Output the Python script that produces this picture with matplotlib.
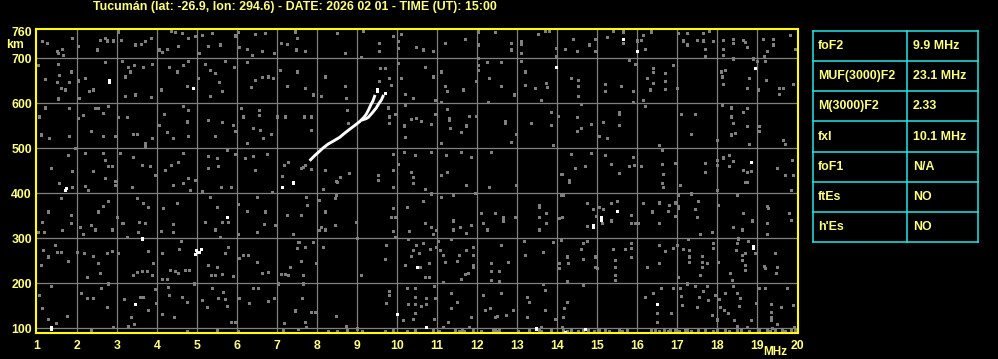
import matplotlib
matplotlib.use("Agg")
import numpy as np
import matplotlib.pyplot as plt

title = "Tucumán (lat: -26.9, lon: 294.6) - DATE: 2026 02 01 - TIME (UT): 15:00"

freq_ticks = list(range(1, 21))
height_ticks = [100, 200, 300, 400, 500, 600, 700, 760]

# F2 traces (ordinary / extraordinary), MHz vs km
trace_o_f = [7.84, 7.94, 8.04, 8.15, 8.28, 8.42, 8.57, 8.69, 8.82, 8.94, 9.07, 9.17, 9.23, 9.29, 9.34, 9.40, 9.44]
trace_o_h = [474, 483, 491, 500, 509, 516, 524, 533, 542, 550, 559, 568, 575, 585, 595, 605, 615]
trace_x_f = [9.15, 9.22, 9.28, 9.38, 9.48, 9.54, 9.61, 9.65]
trace_x_h = [563, 565, 568, 578, 589, 598, 607, 615]

# bright echoes
white_dots = [(9.50, 626), (9.50, 631), (9.69, 622), (2.80, 650), (2.80, 646), (4.91, 633),
              (1.72, 412), (1.70, 407), (5.74, 346), (3.63, 299), (3.45, 153), (1.35, 103),
              (1.35, 99), (7.13, 414), (7.39, 423), (4.97, 273), (4.95, 264), (5.05, 270),
              (5.10, 275), (4.99, 268), (7.41, 424), (13.98, 681), (10.51, 236), (9.99, 131),
              (10.73, 103), (13.48, 99), (15.64, 743), (15.99, 716), (18.95, 678), (18.84, 470),
              (15.49, 361), (15.09, 346), (15.09, 340), (14.89, 329), (14.89, 325), (18.89, 282),
              (18.89, 278), (16.49, 153), (14.70, 97), (14.20, 92)]

# grey noise speckle
grey_dots = [
    (1.13, 737), (1.24, 733), (1.49, 715), (1.52, 711), (1.62, 721), (1.66, 707), (1.88, 744), (2.03, 726),
    (2.49, 719), (2.57, 741), (2.70, 744), (2.74, 739), (2.91, 739), (3.03, 759), (3.10, 741), (3.45, 730),
    (3.60, 731), (3.70, 737), (3.85, 744), (4.05, 719), (4.12, 713), (4.24, 721), (4.35, 761), (4.45, 758),
    (4.53, 726), (4.62, 756), (4.78, 744), (4.95, 748), (5.05, 711), (5.12, 752), (5.28, 726), (5.37, 756),
    (5.58, 730), (5.95, 750), (6.03, 758), (6.05, 724), (6.24, 721), (6.37, 707), (6.45, 753), (6.62, 715),
    (6.70, 756), (6.93, 711), (7.10, 733), (7.24, 731), (7.45, 759), (7.49, 744), (7.47, 719),
    (1.02, 684), (1.20, 654), (1.52, 687), (1.55, 663), (1.49, 647), (1.60, 633), (1.70, 630), (1.53, 610),
    (1.80, 647), (1.85, 670), (2.03, 650), (2.05, 611), (2.20, 656), (2.30, 626), (2.41, 630), (2.70, 691),
    (3.12, 693), (3.28, 681), (3.32, 670), (3.20, 659), (3.20, 615), (3.45, 619), (3.43, 685), (3.66, 681),
    (3.87, 687), (3.85, 613), (4.10, 630), (4.30, 681), (4.49, 670), (4.66, 684), (4.78, 693), (4.74, 637),
    (5.03, 656), (5.20, 687), (5.33, 674), (5.45, 667), (5.55, 647), (5.62, 626), (5.33, 616), (5.70, 693),
    (5.93, 681), (6.24, 691), (6.35, 635), (6.45, 652), (6.62, 657), (6.78, 659), (6.91, 656), (7.08, 674),
    (7.24, 637), (7.49, 670),
    (1.20, 590), (1.10, 530), (1.30, 522), (1.05, 570), (1.80, 589), (1.80, 526), (2.02, 567), (2.16, 574),
    (2.35, 537), (2.45, 589), (2.53, 589), (2.66, 578), (2.78, 593), (2.66, 526), (2.95, 526), (3.03, 568),
    (3.24, 568), (3.41, 531), (3.49, 531), (3.87, 522), (3.70, 511), (4.05, 552), (4.18, 575), (4.24, 535),
    (4.41, 522), (4.66, 593), (4.78, 585), (4.74, 559), (4.78, 526), (5.28, 563), (5.45, 526), (5.62, 558),
    (5.91, 552), (5.95, 537), (6.10, 589), (6.16, 570), (6.24, 511), (6.41, 544), (6.55, 585), (6.55, 574),
    (6.58, 541), (6.66, 522), (6.85, 531), (7.00, 570), (7.20, 570),
    (1.35, 455), (1.78, 484), (1.87, 450), (1.95, 500), (2.20, 489), (2.41, 450), (2.66, 489), (2.70, 474),
    (2.78, 461), (2.88, 461), (2.70, 433), (2.95, 426), (3.07, 489), (3.41, 481), (3.62, 463), (3.70, 504),
    (3.83, 461), (3.95, 441), (4.20, 452), (4.35, 463), (4.53, 470), (4.66, 489), (4.78, 433), (4.95, 430),
    (5.28, 483), (5.49, 478), (5.28, 455), (5.53, 461), (5.74, 496), (5.95, 487), (6.20, 478), (6.41, 483),
    (6.45, 452), (6.74, 487), (7.18, 463), (7.28, 470), (7.13, 437),
    (1.55, 423), (1.60, 388), (1.88, 413), (2.20, 416), (2.28, 407), (2.53, 359), (2.66, 371), (2.77, 383),
    (2.95, 418), (3.37, 413), (3.49, 388), (3.66, 377), (3.78, 370), (4.16, 366), (4.41, 418), (4.49, 377),
    (4.66, 423), (4.83, 407), (5.12, 405), (5.33, 392), (5.49, 370), (5.60, 414), (5.85, 413), (6.03, 376),
    (6.24, 361), (6.49, 392), (6.70, 359), (6.88, 403), (6.95, 329), (6.68, 331), (7.24, 351), (7.41, 310),
    (1.02, 314), (1.18, 314), (1.27, 359), (1.13, 336), (1.62, 318), (1.85, 351), (1.85, 334), (2.08, 325),
    (2.16, 309), (2.35, 329), (2.45, 319), (2.87, 319), (2.99, 347), (3.13, 333), (3.15, 333), (3.24, 303),
    (3.55, 336), (3.53, 314), (3.70, 333), (4.10, 316), (4.41, 331), (4.41, 314), (5.20, 336), (5.45, 319),
    (5.62, 336), (5.78, 336), (5.58, 303), (6.03, 310), (6.49, 314),
    (1.16, 273), (1.10, 240), (1.28, 259), (1.49, 270), (1.60, 270), (1.45, 284), (1.78, 250), (1.99, 270),
    (2.18, 267), (2.41, 260), (2.53, 245), (2.57, 223), (2.24, 214), (2.74, 267), (2.88, 272), (3.03, 267),
    (3.41, 218), (3.49, 225), (3.63, 227), (3.74, 227), (3.87, 218), (3.91, 245), (3.78, 272), (4.12, 267),
    (4.32, 229), (4.45, 227), (4.53, 223), (4.70, 230), (4.80, 230), (4.60, 294), (4.55, 275), (4.12, 208),
    (4.24, 210), (5.28, 240), (5.49, 235), (5.35, 218), (5.45, 218), (5.62, 220), (5.70, 267), (5.78, 281),
    (5.91, 216), (6.05, 255), (6.16, 262), (6.28, 262), (6.49, 247), (6.62, 223), (6.78, 225), (7.10, 221),
    (7.20, 220), (7.28, 218), (7.33, 236), (7.53, 292), (7.49, 277),
    (1.05, 173), (1.13, 144), (1.27, 121), (1.35, 193), (1.47, 112), (1.74, 127), (2.10, 177), (2.24, 166),
    (2.41, 166), (2.60, 188), (2.74, 146), (2.78, 199), (2.91, 103), (3.18, 164), (3.27, 104), (3.35, 125),
    (3.43, 109), (3.57, 169), (3.66, 169), (3.78, 140), (3.95, 186), (3.97, 156), (4.12, 132), (4.27, 192),
    (4.30, 173), (4.43, 124), (4.62, 169), (4.74, 158), (4.93, 199), (5.12, 162), (5.24, 146), (5.38, 190),
    (5.52, 166), (5.66, 181), (5.70, 164), (5.74, 149), (5.85, 114), (5.95, 114), (6.05, 166), (6.30, 156),
    (6.41, 190), (6.52, 190), (6.78, 161), (6.93, 166), (7.03, 199), (7.18, 112), (7.45, 139), (7.53, 97),
    (8.51, 756), (9.15, 761), (7.69, 715), (8.69, 711), (9.09, 702), (9.54, 733), (9.54, 716), (9.90, 748),
    (10.03, 737), (10.03, 722), (10.11, 753), (10.48, 724), (10.65, 719), (10.90, 716), (11.19, 733),
    (11.69, 743), (12.03, 759), (12.44, 758), (12.03, 730), (12.03, 700), (12.03, 685), (12.03, 674),
    (12.26, 691), (12.59, 691), (12.84, 733), (12.84, 719), (13.09, 737), (13.09, 732), (13.09, 711),
    (13.09, 693), (13.53, 753), (13.69, 761), (13.79, 761), (13.98, 722), (13.98, 704),
    (8.19, 659), (7.69, 633), (7.90, 619), (8.09, 615), (8.73, 611), (8.69, 637), (9.57, 678), (9.69, 678),
    (9.79, 655), (9.84, 641), (9.55, 648), (10.03, 689), (10.11, 655), (10.19, 620), (10.40, 611),
    (10.69, 681), (10.90, 659), (11.09, 670), (11.19, 637), (11.26, 626), (11.65, 630), (10.94, 607),
    (11.11, 602), (11.98, 648), (12.29, 655), (12.28, 602), (12.61, 637), (12.93, 619), (13.19, 670),
    (13.19, 641), (13.44, 633), (13.59, 607), (13.73, 644), (13.76, 635),
    (7.68, 570), (7.84, 570), (7.84, 541), (8.76, 585), (8.78, 555), (9.77, 590), (9.79, 570), (9.79, 555),
    (9.94, 576), (10.19, 595), (10.36, 565), (10.48, 567), (10.61, 561), (10.18, 550), (10.21, 524),
    (10.84, 553), (10.94, 576), (11.26, 587), (11.29, 567), (11.29, 562), (11.32, 544), (11.61, 535),
    (11.79, 572), (11.98, 572), (11.73, 550), (11.09, 511), (12.69, 555), (12.69, 560), (12.98, 531),
    (13.36, 555), (13.84, 581), (13.84, 552), (14.03, 572), (13.90, 506),
    (7.65, 457), (7.86, 454), (8.19, 452), (8.79, 444), (8.57, 435), (8.48, 427), (9.53, 441), (9.53, 430),
    (9.90, 487), (9.90, 452), (10.03, 464), (10.18, 492), (10.44, 484), (10.36, 447), (10.40, 435),
    (10.86, 491), (11.09, 441), (11.23, 485), (11.26, 447), (11.61, 491), (11.84, 481), (12.34, 491),
    (12.84, 513), (14.09, 442), (7.70, 463), (7.60, 456),
    (8.15, 410), (8.51, 425), (8.48, 396), (8.44, 390), (8.04, 384), (7.73, 392), (7.76, 373), (7.59, 351),
    (8.19, 359), (8.09, 325), (8.04, 318), (8.19, 319), (8.44, 329), (8.98, 336), (9.01, 301), (9.90, 414),
    (9.90, 366), (9.94, 346), (9.86, 347), (9.90, 316), (9.94, 303), (10.40, 423), (10.69, 408),
    (10.65, 383), (10.84, 399), (11.09, 392), (10.26, 370), (10.29, 316), (10.69, 334), (10.86, 325),
    (10.90, 309), (10.98, 318), (11.40, 396), (11.40, 339), (11.40, 319), (11.57, 325), (11.73, 418),
    (11.73, 312), (11.84, 329), (11.94, 401), (12.29, 414), (12.09, 355), (12.15, 334), (12.26, 319),
    (12.44, 356), (12.65, 347), (12.65, 339), (12.94, 346), (12.98, 418), (13.54, 373), (13.54, 368),
    (13.54, 347), (13.54, 319), (13.73, 356), (13.73, 334), (14.04, 344), (14.11, 396),
    (7.54, 292), (7.59, 250), (7.71, 281), (7.90, 292), (8.15, 281), (7.98, 244), (7.65, 218), (7.65, 199),
    (9.09, 218), (9.69, 253), (9.73, 284), (10.28, 297), (10.48, 284), (10.65, 290), (10.40, 273),
    (10.54, 267), (10.36, 260), (10.21, 240), (10.57, 236), (10.82, 275), (10.79, 245), (10.98, 281),
    (11.07, 273), (11.15, 262), (11.19, 247), (11.03, 294), (11.36, 297), (11.51, 250), (11.54, 262),
    (11.73, 273), (11.90, 281), (11.90, 262), (11.90, 236), (11.90, 241), (11.78, 223), (11.69, 221),
    (11.59, 210), (10.69, 214), (10.79, 213), (11.15, 203), (12.34, 245), (12.34, 227), (12.34, 207),
    (12.54, 227), (12.54, 205), (12.59, 284), (12.78, 247), (13.19, 262), (13.18, 294), (13.65, 270),
    (13.90, 292), (14.04, 244), (14.04, 233),
    (7.63, 166), (7.86, 136), (7.94, 136), (7.69, 114), (7.73, 103), (8.48, 127), (8.73, 104), (9.01, 99),
    (9.79, 183), (9.79, 173), (9.73, 155), (10.15, 118), (10.26, 188), (10.44, 188), (10.44, 169),
    (10.28, 153), (10.44, 153), (10.59, 149), (10.44, 133), (10.40, 121), (10.73, 166), (10.73, 153),
    (10.93, 193), (10.94, 166), (10.93, 121), (11.15, 103), (11.34, 177), (11.51, 158), (11.34, 144),
    (11.28, 114), (11.84, 125), (11.79, 103), (12.15, 173), (12.19, 140), (12.32, 144), (12.44, 125),
    (12.51, 127), (12.59, 177), (12.73, 129), (12.90, 141), (13.26, 169), (13.29, 158), (13.26, 124),
    (13.69, 184), (13.69, 141), (13.65, 198), (13.94, 121), (13.61, 103),
    (14.41, 743), (14.20, 721), (14.49, 716), (14.81, 730), (14.95, 743), (14.95, 716), (15.24, 746),
    (15.39, 761), (15.64, 759), (15.64, 733), (15.99, 739), (16.09, 741), (16.14, 752), (16.34, 759),
    (16.20, 721), (17.03, 756), (17.14, 739), (17.24, 756), (17.24, 730), (17.49, 741), (17.64, 756),
    (17.66, 739), (17.70, 721), (17.70, 704), (17.81, 761), (17.89, 737), (18.16, 741), (18.14, 721),
    (18.14, 707), (18.39, 743), (18.39, 733), (18.64, 741), (18.70, 736), (18.74, 724), (19.16, 743),
    (19.39, 743), (19.39, 730), (19.24, 716), (19.18, 704), (19.83, 752), (19.95, 721),
    (15.81, 696), (15.95, 687), (16.39, 678), (16.39, 669), (16.70, 667), (16.70, 648), (16.70, 632),
    (16.89, 685), (16.99, 633), (16.41, 644), (16.33, 630), (16.26, 656), (15.89, 626), (15.89, 602),
    (16.14, 607), (16.20, 593), (15.59, 637), (15.20, 642), (15.20, 627), (14.53, 652), (14.53, 637),
    (14.53, 615), (14.34, 656), (18.09, 670), (18.20, 674), (18.12, 659), (18.14, 642), (18.41, 699),
    (18.81, 656), (18.74, 633), (18.89, 699), (18.99, 693), (19.03, 630), (19.20, 693), (19.23, 652),
    (19.56, 633), (19.64, 633), (19.56, 620), (19.91, 642),
    (14.59, 598), (14.49, 568), (14.49, 537), (14.59, 544), (14.84, 553), (15.06, 526), (15.14, 558),
    (15.24, 522), (15.56, 581), (15.56, 576), (15.56, 552), (16.56, 506), (17.09, 576), (17.34, 531),
    (17.45, 576), (17.99, 518), (18.12, 595), (18.34, 590), (18.34, 570), (18.39, 555), (18.45, 533),
    (18.34, 530), (18.64, 580), (18.74, 589), (18.74, 548), (18.81, 509), (19.06, 548), (19.06, 537),
    (19.66, 518), (19.70, 509),
    (14.34, 487), (14.45, 456), (14.70, 461), (14.84, 489), (15.20, 484), (15.34, 464), (15.56, 444),
    (15.91, 481), (15.93, 463), (15.81, 461), (16.09, 461), (16.62, 496), (16.62, 464), (16.64, 442),
    (16.95, 467), (17.70, 467), (17.70, 447), (17.99, 474), (17.99, 463), (18.14, 479), (18.31, 485),
    (18.39, 472), (18.31, 461), (18.64, 452), (18.74, 447), (18.84, 450), (19.49, 456), (19.70, 441),
    (19.87, 474), (19.89, 441), (14.12, 442), (14.31, 430), (18.70, 424),
    (14.16, 396), (14.31, 425), (14.76, 377), (14.91, 364), (15.06, 370), (15.14, 364), (15.34, 377),
    (15.51, 383), (14.76, 327), (14.97, 349), (15.12, 334), (15.34, 339), (15.84, 351), (15.84, 334),
    (15.95, 333), (16.03, 333), (16.14, 377), (16.37, 359), (16.56, 379), (16.62, 422), (16.64, 413),
    (16.56, 333), (16.78, 361), (16.81, 373), (16.95, 379), (16.95, 349), (17.03, 396), (17.03, 366),
    (17.03, 371), (17.08, 418), (17.34, 399), (17.45, 364), (17.49, 347), (17.53, 383), (17.58, 310),
    (17.87, 314), (17.99, 407), (18.03, 373), (18.41, 325), (18.49, 396), (18.62, 319), (18.64, 356),
    (18.74, 425), (18.87, 339), (19.24, 371), (19.28, 366), (19.24, 334), (19.24, 310), (19.81, 356),
    (19.84, 341), (19.84, 407),
    (14.12, 347), (14.09, 296), (14.24, 259), (14.28, 245), (14.64, 288), (14.66, 253), (14.74, 294),
    (14.59, 275), (14.95, 259), (14.95, 235), (14.99, 233), (15.39, 275), (15.45, 251), (15.45, 235),
    (15.45, 218), (15.45, 207), (15.70, 275), (15.84, 290), (15.84, 277), (15.84, 257), (16.24, 236),
    (16.56, 284), (16.56, 245), (16.70, 272), (16.89, 277), (16.99, 284), (17.03, 214), (17.14, 275),
    (17.28, 297), (17.31, 273), (17.31, 259), (17.31, 247), (17.62, 260), (17.62, 247), (17.62, 236),
    (17.58, 218), (17.74, 245), (17.89, 290), (17.89, 277), (18.03, 247), (18.33, 223), (18.37, 207),
    (18.48, 273), (18.53, 299), (18.49, 288), (18.62, 262), (18.62, 252), (18.70, 266), (18.70, 240),
    (18.70, 229), (18.78, 294), (18.95, 267), (19.18, 238), (19.20, 233), (19.45, 267), (19.49, 236),
    (19.48, 223),
    (14.24, 205), (14.64, 195), (14.24, 158), (14.17, 144), (14.14, 125), (14.12, 103), (16.20, 168),
    (16.39, 178), (16.59, 190), (16.51, 134), (16.49, 114), (16.84, 133), (16.91, 190), (17.08, 188),
    (17.09, 171), (17.12, 151), (17.24, 199), (17.45, 193), (17.51, 146), (17.56, 168), (17.64, 183),
    (17.74, 193), (17.78, 162), (17.87, 129), (17.99, 119), (17.95, 173), (18.06, 164), (18.08, 147),
    (18.18, 140), (18.28, 133), (18.20, 178), (18.41, 193), (18.49, 177), (18.58, 166), (18.56, 149),
    (18.43, 118), (18.51, 104), (18.84, 118), (18.97, 155), (19.06, 190), (19.20, 190), (19.34, 153),
    (19.34, 136), (19.34, 118), (19.34, 124), (19.51, 109), (19.59, 146), (19.74, 190), (19.91, 151),
    (19.93, 103), (18.74, 103), (19.37, 101),
]

# clutter along the lower edge (~90 km)
floor_f = [2.34, 4.74, 5.49, 6.03, 7.14, 8.28, 8.49, 8.74, 9.12, 9.70, 9.90, 10.25, 10.45, 10.90, 11.05,
           11.45, 11.55, 11.62, 11.68, 11.90, 12.10, 12.40, 12.45, 12.50, 12.55, 13.03, 13.30, 13.55,
           13.60, 13.85, 14.15, 14.25, 14.35, 14.53, 14.65, 14.78, 14.92, 15.05, 15.20, 15.30, 15.55,
           15.62, 15.75, 16.35, 16.45, 16.55, 16.68, 16.78, 16.82, 16.95, 17.05, 17.20, 17.25, 17.35,
           17.52, 17.70, 17.90, 18.00, 18.20, 18.30, 18.50, 18.60, 18.80, 19.05, 19.25, 19.32, 19.45,
           19.62, 19.70, 19.85, 19.95]
floor_h = [93, 92, 94, 92, 93, 92, 92, 93, 92, 92, 94, 92, 93, 94, 92,
           93, 92, 94, 92, 93, 92, 94, 93, 92, 93, 92, 93, 94,
           92, 93, 94, 92, 93, 92, 94, 93, 92, 94, 93, 92, 94,
           92, 93, 94, 93, 92, 94, 92, 95, 93, 92, 94, 93, 92,
           93, 94, 92, 93, 94, 92, 93, 94, 92, 93, 94, 92, 95,
           93, 92, 94, 93]

param_names = ["foF2", "MUF(3000)F2", "M(3000)F2", "fxI", "foF1", "ftEs", "h'Es"]
param_values = ["9.9 MHz", "23.1 MHz", "2.33", "10.1 MHz", "N/A", "NO", "NO"]

W, H = 998, 359
text_col = "#ffff80"
font = dict(family=["Liberation Sans", "DejaVu Sans"], weight="bold", size=8.9, color=text_col)

fig = plt.figure(figsize=(W / 100, H / 100), dpi=100, facecolor="black")
ax = fig.add_axes([36 / W, (H - 333) / H, 762 / W, 304 / H], facecolor="black")
ax.set_xlim(0.975, 20.025)
ax.set_ylim(89, 764.5)

for f in freq_ticks[1:-1]:
    ax.axvline(f, color="#808080", lw=0.9, zorder=1)
for h in height_ticks[:-1]:
    ax.axhline(h, color="#808080", lw=0.9, zorder=1)

gf = np.array([p[0] for p in grey_dots])
gh = np.array([p[1] for p in grey_dots])
ax.vlines(gf, gh - 2.3, gh + 2.3, colors="#7f7f7f", lw=0.75, antialiased=False, zorder=2)
ax.vlines(floor_f, np.array(floor_h) - 4, np.array(floor_h) + 4, colors="#7f7f7f", lw=0.75,
          antialiased=False, zorder=2)
wf = np.array([p[0] for p in white_dots])
wh = np.array([p[1] for p in white_dots])
ax.vlines(wf, wh - 2.3, wh + 2.3, colors="white", lw=0.75, antialiased=False, zorder=3)

ax.plot(trace_o_f, trace_o_h, color="white", lw=2.1, zorder=4)
ax.plot(trace_x_f, trace_x_h, color="white", lw=2.1, zorder=4)

for s in ax.spines.values():
    s.set_color("#ffff00")
    s.set_linewidth(1.5)

ax.set_xticks(freq_ticks)
ax.set_xticklabels([str(v) for v in freq_ticks])
ax.set_yticks(height_ticks)
ax.set_yticklabels([str(v) for v in height_ticks])
ax.tick_params(length=0)
ax.tick_params(axis="x", pad=5)
ax.tick_params(axis="y", pad=3)
for lab in ax.get_xticklabels() + ax.get_yticklabels():
    lab.set_fontfamily(font["family"])
    lab.set_fontweight("bold")
    lab.set_fontsize(8.8)
    lab.set_color(text_col)

fig.text(295 / W, 1 - 7 / H, title, ha="center", va="center", **font)
fig.text(6 / W, 1 - 45 / H, "km", ha="left", va="center", **{**font, "size": 8.8})
fig.text(787 / W, 1 - 352 / H, "MHz", ha="right", va="center", **{**font, "size": 8.5})

# parameter table
tax = fig.add_axes([812.7 / W, (H - 242.3) / H, 165 / W, 211.6 / H], facecolor="black")
tax.set_xlim(0, 1)
tax.set_ylim(len(param_names), 0)
tax.axis("off")
cyan = "#20e8e8"
for i in range(len(param_names) + 1):
    tax.axhline(i, color=cyan, lw=1.1, clip_on=False)
for x in [0, 0.573, 1]:
    tax.axvline(x, color=cyan, lw=1.1, clip_on=False)
for i, (n, v) in enumerate(zip(param_names, param_values)):
    tax.text(0.03, i + 0.5, n, ha="left", va="center", **font)
    tax.text(0.606, i + 0.5, v, ha="left", va="center", **font)

fig.savefig("out.png", dpi=100, facecolor="black")
